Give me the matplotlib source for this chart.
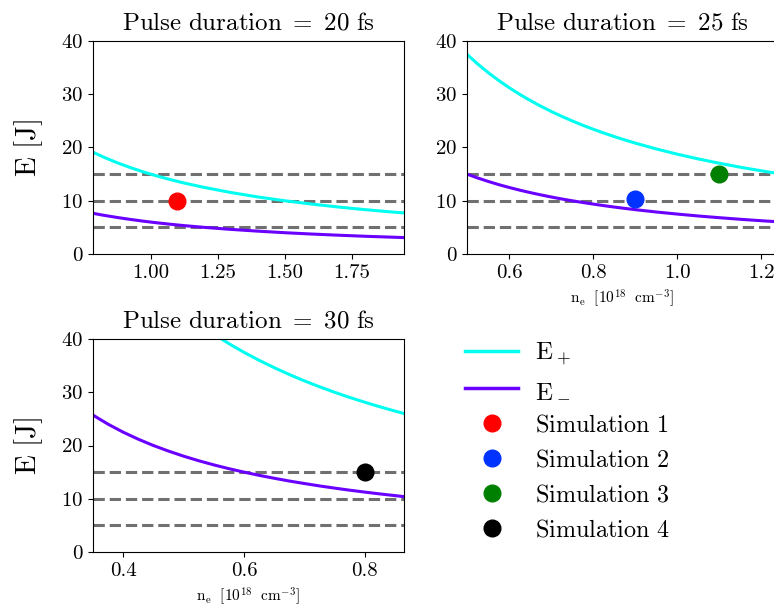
import numpy as np
import matplotlib
matplotlib.use("Agg")
import matplotlib.pyplot as plt
from matplotlib.lines import Line2D

plt.rcParams['font.family'] = 'serif'
plt.rcParams['font.serif'] = ['cmr10']
plt.rcParams['mathtext.fontset'] = 'cm'
plt.rcParams['axes.formatter.use_mathtext'] = True
plt.rcParams['axes.unicode_minus'] = False

# valeurs lues sur la figure
# tau = 20 fs
n_20 = [0.785, 0.825, 0.875, 0.925, 0.975, 1.025, 1.075, 1.125, 1.2, 1.3, 1.4, 1.5, 1.6, 1.7, 1.8, 1.9, 1.945]
Ep_20 = [19.11, 18.18, 17.14, 16.22, 15.38, 14.63, 13.95, 13.33, 12.5, 11.54, 10.71, 10.0, 9.38, 8.82, 8.33, 7.89, 7.71]
Em_20 = [7.64, 7.27, 6.86, 6.49, 6.15, 5.85, 5.58, 5.33, 5.0, 4.62, 4.29, 4.0, 3.75, 3.53, 3.33, 3.16, 3.08]

# tau = 25 fs
n_25 = [0.5, 0.525, 0.55, 0.575, 0.6, 0.625, 0.65, 0.675, 0.7, 0.725, 0.75, 0.775, 0.8, 0.825,
        0.85, 0.875, 0.9, 0.95, 1.0, 1.05, 1.1, 1.15, 1.2, 1.24]
Ep_25 = [37.5, 35.71, 34.09, 32.61, 31.25, 30.0, 28.85, 27.78, 26.79, 25.86, 25.0, 24.19, 23.44, 22.73,
         22.06, 21.43, 20.83, 19.74, 18.75, 17.86, 17.05, 16.30, 15.63, 15.12]
Em_25 = [15.0, 14.29, 13.64, 13.04, 12.5, 12.0, 11.54, 11.11, 10.71, 10.34, 10.0, 9.68, 9.38, 9.09,
         8.82, 8.57, 8.33, 7.89, 7.5, 7.14, 6.82, 6.52, 6.25, 6.05]

# tau = 30 fs
n_30 = [0.35, 0.375, 0.4, 0.425, 0.45, 0.475, 0.5, 0.525, 0.55, 0.575, 0.6, 0.625, 0.65, 0.675,
        0.7, 0.725, 0.75, 0.775, 0.8, 0.825, 0.85, 0.865]
Ep_30 = [64.3, 60.0, 56.25, 52.94, 50.0, 47.37, 45.0, 42.86, 40.91, 39.13, 37.5, 36.0, 34.62, 33.33,
         32.14, 31.03, 30.0, 29.03, 28.13, 27.27, 26.47, 26.01]
Em_30 = [25.71, 24.0, 22.5, 21.18, 20.0, 18.95, 18.0, 17.14, 16.36, 15.65, 15.0, 14.4, 13.85, 13.33,
         12.86, 12.41, 12.0, 11.61, 11.25, 10.91, 10.59, 10.40]

# simulations
sim_n = [1.1, 0.9, 1.1, 0.8]
sim_E = [10.0, 10.3, 15.0, 15.0]
sim_panel = [0, 1, 1, 2]
sim_col = ['#ff0000', '#0033ff', '#008000', '#000000']
sim_lab = ['1', '2', '3', '4']

niveaux = [5, 10, 15]
titres = ['20', '25', '30']
xlims = [(0.785, 1.945), (0.5, 1.24), (0.35, 0.865)]

c_plus = '#00fff0'
c_moins = '#6a00ff'

fig = plt.figure(figsize=(7.74, 6.11), dpi=100)
W, H = 774, 611
def pos(x0, x1, y0, y1):
    return [x0 / W, 1 - y1 / H, (x1 - x0) / W, (y1 - y0) / H]

ax1 = fig.add_axes(pos(93, 404, 41, 254))
ax2 = fig.add_axes(pos(467, 778, 41, 254))
ax3 = fig.add_axes(pos(93, 404, 339, 552))
axes = [ax1, ax2, ax3]

donnees = [(n_20, Ep_20, Em_20), (n_25, Ep_25, Em_25), (n_30, Ep_30, Em_30)]

for i, ax in enumerate(axes):
    n, ep, em = donnees[i]
    for y in niveaux:
        ax.axhline(y, color='#707070', ls='--', lw=2.2, zorder=1)
    ax.plot(n, ep, color=c_plus, lw=2.2, zorder=2)
    ax.plot(n, em, color=c_moins, lw=2.2, zorder=2)
    for k in range(4):
        if sim_panel[k] == i:
            ax.plot(sim_n[k], sim_E[k], 'o', color=sim_col[k], ms=12, zorder=3)
    ax.set_xlim(xlims[i])
    ax.set_ylim(0, 40)
    ax.set_yticks([0, 10, 20, 30, 40])
    ax.tick_params(labelsize=15)
    ax.set_title(r'$\mathrm{Pulse\ duration}\ =\ ' + titres[i] + r'\ \mathrm{fs}$', fontsize=18, pad=8)

ax1.set_xticks([1.0, 1.25, 1.5, 1.75])
ax1.set_xticklabels(['1.00', '1.25', '1.50', '1.75'])
ax2.set_xticks([0.6, 0.8, 1.0, 1.2])
ax2.set_xticklabels(['0.6', '0.8', '1.0', '1.2'])
ax3.set_xticks([0.4, 0.6, 0.8])
ax3.set_xticklabels(['0.4', '0.6', '0.8'])

ax1.set_ylabel(r'$\mathrm{E\ [J]}$', fontsize=21, labelpad=12)
ax3.set_ylabel(r'$\mathrm{E\ [J]}$', fontsize=21, labelpad=12)
xl = r'$\mathrm{n_e\ \ [10^{18}\ \ cm^{-3}]}$'
ax2.set_xlabel(xl, fontsize=11, labelpad=4)
ax3.set_xlabel(xl, fontsize=11, labelpad=4)

poignees = [Line2D([], [], color=c_plus, lw=2.5), Line2D([], [], color=c_moins, lw=2.5)]
noms = [r'$\mathrm{E_+}$', r'$\mathrm{E_-}$']
for k in range(4):
    poignees.append(Line2D([], [], ls='', marker='o', color=sim_col[k], ms=12))
    noms.append(r'$\mathrm{Simulation\ ' + sim_lab[k] + '}$')

leg = fig.legend(poignees, noms, loc='upper left', bbox_to_anchor=(465 / W, 1 - 340 / H),
                 frameon=False, fontsize=17.4, handlelength=2.2, handletextpad=0.7,
                 labelspacing=0.53, borderpad=0, borderaxespad=0)
# le signe moins disparait a 17.4 pt
leg.get_texts()[0].set_fontsize(18)
leg.get_texts()[1].set_fontsize(18)

fig.savefig('out.png', dpi=100)
